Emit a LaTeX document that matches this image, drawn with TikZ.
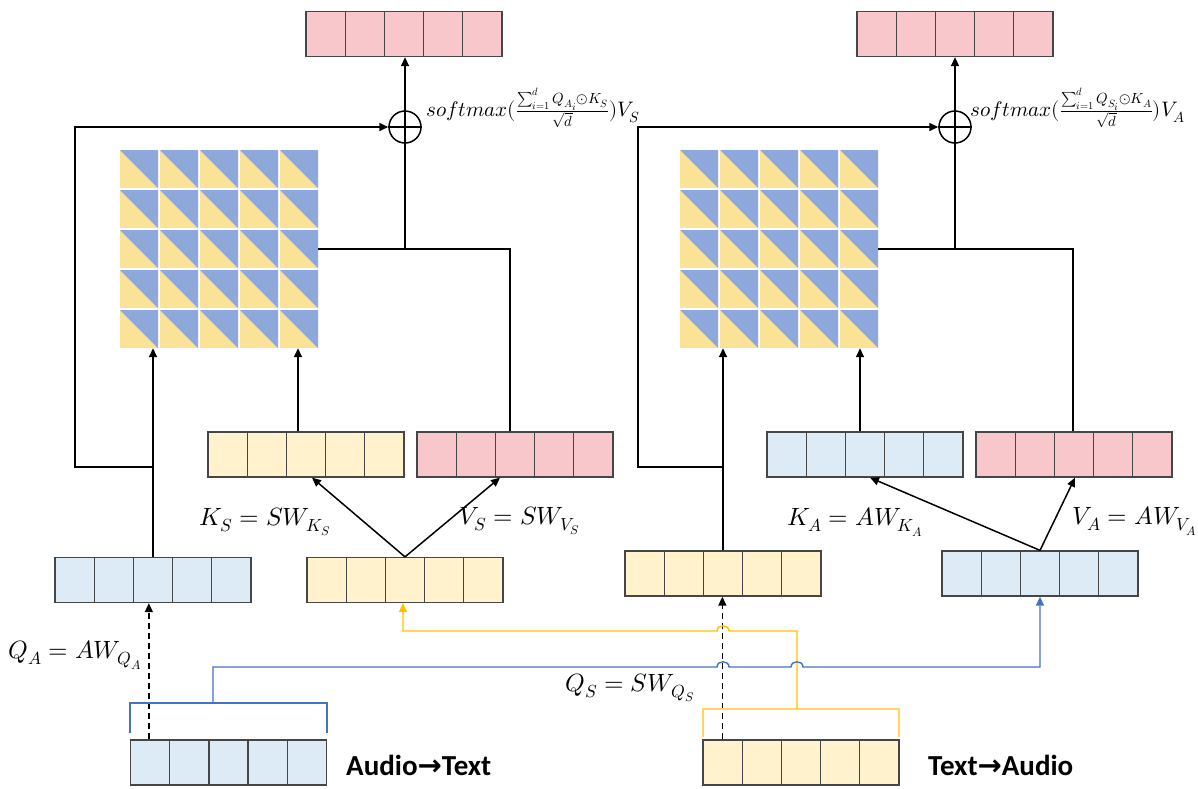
\documentclass[tikz,border=0pt]{standalone}
\usepackage{fontspec}
\usepackage{unicode-math}
\setmathfont{Latin Modern Math}
\usetikzlibrary{arrows.meta,calc}
\newfontfamily\labelfont{Carlito}
\newfontfamily\arrowglyph{DejaVu Sans}

\definecolor{cpink}{RGB}{247,199,204}
\definecolor{cyel}{RGB}{255,242,204}
\definecolor{cblue}{RGB}{221,235,247}
\definecolor{gblue}{RGB}{143,168,220}
\definecolor{gyel}{RGB}{250,227,150}
\definecolor{edge}{RGB}{70,70,70}
\definecolor{lnblue}{RGB}{68,114,196}
\definecolor{lnyel}{RGB}{255,192,0}
\definecolor{bryel}{RGB}{255,212,95}

\tikzset{
  vec/.style={draw=edge, line width=1.3pt, fill=#1, minimum width=196pt,
    minimum height=45pt, inner sep=0pt,
    path picture={\foreach \k in {1,...,4}{
      \draw[edge, line width=1.3pt]
        ($(path picture bounding box.south west)!\k/5!(path picture bounding box.south east)$) --
        ($(path picture bounding box.north west)!\k/5!(path picture bounding box.north east)$);}}},
  flow/.style={line width=1.5pt, draw=black},
  tip/.style={-{Triangle[length=9pt,width=8pt]}},
  dashflow/.style={line width=1.4pt, draw=black, dash pattern=on 6pt off 4pt},
  bluewire/.style={line width=1.4pt, draw=lnblue},
  yelwire/.style={line width=1.4pt, draw=lnyel},
  bracket/.style={line width=1.3pt},
  gridbox/.style={minimum width=198pt, minimum height=198pt, inner sep=0pt},
  adder/.style={circle, draw=black, line width=1.5pt, minimum size=32pt, inner sep=0pt},
  eq/.style={inner sep=0pt, font=\fontsize{25}{30}\selectfont},
  formula/.style={inner sep=0pt, anchor=west, font=\fontsize{21}{25}\selectfont},
  tag/.style={inner sep=0pt, anchor=west, font=\fontsize{29}{34}\selectfont\bfseries}
}

\begin{document}
\begin{tikzpicture}[x=1pt, y=-1pt]
\useasboundingbox (0,0) rectangle (1198,788);

% attention maps (5x5 cells split along the diagonal)
\foreach \gx in {120,680}{
  \foreach \i in {0,...,4}{
    \foreach \j in {0,...,4}{
      \fill[gyel] (\gx+40*\i,150+40*\j) rectangle ++(38,38);
      \fill[gblue] (\gx+40*\i,150+40*\j) -- ++(38,0) -- ++(0,38) -- cycle;
    }
  }
}
\node[gridbox] (gridL) at (219,249) {};
\node[gridbox] (gridR) at (779,249) {};

% output vectors
\node[vec=cpink] (outL) at (404,34) {};
\node[vec=cpink] (outR) at (955,34) {};

% key / value vectors
\node[vec=cyel]  (kS) at (306,454.5) {};
\node[vec=cpink] (vS) at (515,454.5) {};
\node[vec=cblue] (kA) at (865,454.5) {};
\node[vec=cpink] (vA) at (1074,454.5) {};

% projected inputs
\node[vec=cblue] (qA) at (153,580) {};
\node[vec=cyel]  (sS) at (405,580) {};
\node[vec=cyel]  (qS) at (723,573.5) {};
\node[vec=cblue] (rA) at (1040,573.5) {};

% raw inputs
\node[vec=cblue] (audio) at (228.5,762.5) {};
\node[vec=cyel]  (text)  at (801,762.5) {};

% adders
\node[adder] (addL) at (405,127) {};
\node[adder] (addR) at (955,127) {};
\foreach \a in {addL,addR}{
  \draw[flow] (\a.north) -- (\a.south);
  \draw[flow] (\a.west) -- (\a.east);
}

% ---- left branch ----
\coordinate (fbL) at (75,467);
\coordinate (kSup) at ($(kS.north)+(-8,0)$);
\coordinate (vSup) at ($(vS.north)+(-5,0)$);
\draw[flow,tip] (qA.north) -- (qA.north |- gridL.south);
\draw[flow,tip] (qA.north |- fbL) -- (fbL) |- (addL.west);
\draw[flow,tip] (kSup) -- (kSup |- gridL.south);
\draw[flow] (vSup) |- (gridL.east);
\draw[flow] (addL.south |- gridL.east) -- (addL.south);
\draw[flow,tip] (addL.north) -- (outL.south -| addL.north);
\draw[flow,tip] (sS.north) -- ($(kS.south)+(6,0)$);
\draw[flow,tip] (sS.north) -- ($(vS.south)+(-15,0)$);

% ---- right branch ----
\coordinate (fbR) at (638,467);
\coordinate (kAup) at ($(kA.north)+(-5,0)$);
\coordinate (vAup) at ($(vA.north)+(-1,0)$);
\draw[flow,tip] (qS.north) -- (qS.north |- gridR.south);
\draw[flow,tip] (qS.north |- fbR) -- (fbR) |- (addR.west);
\draw[flow,tip] (kAup) -- (kAup |- gridR.south);
\draw[flow] (vAup) |- (gridR.east);
\draw[flow] (addR.south |- gridR.east) -- (addR.south);
\draw[flow,tip] (addR.north) -- (outR.south -| addR.north);
\draw[flow,tip] (rA.north) -- ($(kA.south)+(5,0)$);
\draw[flow,tip] (rA.north) -- ($(vA.south)+(1,0)$);

% ---- query projections (dashed) ----
\coordinate (qAsrc) at ($(audio.north west)+(19,0)$);
\coordinate (qSsrc) at ($(text.north west)+(20,0)$);
\draw[dashflow,tip] (qAsrc) -- (qAsrc |- qA.south);
\draw[dashflow,tip] (qSsrc) -- (qSsrc |- qS.south);

% ---- input brackets and cross wires ----
\coordinate (brA) at (213,703);
\coordinate (brT) at (797,709);
\draw[bracket, lnblue] (130,733) -- (130,703) -- (327,703) -- (327,733);
\draw[bracket, bryel]  (703,737) -- (703,709) -- (899,709) -- (899,737);

\draw[yelwire,-{Triangle[length=9pt,width=8pt]}]
  (brT) -- (797,631) -- (729,631)
  .. controls (729,624) and (717,624) .. (717,631)
  -- (403,631) -- (403,603);

\draw[bluewire,-{Triangle[length=9pt,width=8pt]}]
  (brA) -- (213,667) -- (717,667)
  .. controls (717,660) and (729,660) .. (729,667)
  -- (791,667)
  .. controls (791,660) and (803,660) .. (803,667)
  -- (1040,667) -- (rA.south);

% ---- labels ----
\node[formula] (fL) at (426,108)
  {$softmax(\frac{\sum_{i=1}^{d} Q_{A_i}\odot K_S}{\sqrt{d}})V_S$};
\node[formula] (fR) at (970,108)
  {$softmax(\frac{\sum_{i=1}^{d} Q_{S_i}\odot K_A}{\sqrt{d}})V_A$};

\node[eq, anchor=east] (lQA) at (142,655) {$Q_A = AW_{Q_A}$};
\node[eq] (lKS) at (265,522) {$K_S = SW_{K_S}$};
\node[eq] (lVS) at (520,521) {$V_S = SW_{V_S}$};
\node[eq] (lKA) at (855,522) {$K_A = AW_{K_A}$};
\node[eq] (lVA) at (1135,521) {$V_A = AW_{V_A}$};
\node[eq] (lQS) at (630,688) {$Q_S = SW_{Q_S}$};

\node[tag] (tAT) at (346,765)
  {\labelfont Audio{\arrowglyph\bfseries →}Text};
\node[tag] (tTA) at (928,765)
  {\labelfont Text{\arrowglyph\bfseries →}Audio};
\end{tikzpicture}
\end{document}
